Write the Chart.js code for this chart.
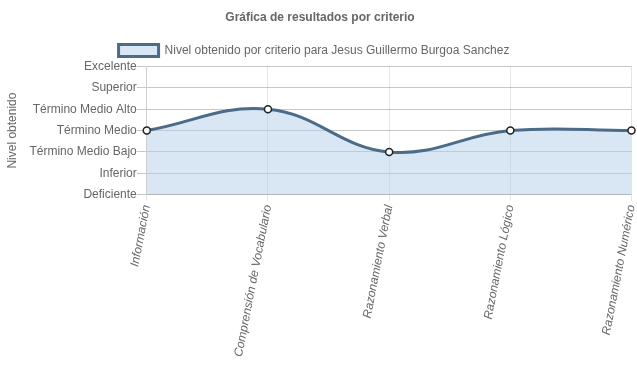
<!DOCTYPE html>
<html>
<head>
<meta charset="utf-8">
<script src="https://cdn.jsdelivr.net/npm/chart.js@4/dist/chart.umd.min.js"></script>
<style>
	html, body { margin: 0; padding: 0; background: #fff; }
	#wrap { width: 637px; height: 389px; }
</style>
</head>
<body>
<div id="wrap"><canvas id="myChart1"></canvas></div>
<script>
var criterios = ['Información', 'Comprensión de Vocabulario', 'Razonamiento Verbal', 'Razonamiento Lógico', 'Razonamiento Numérico'];
var niveles = ['Deficiente', 'Inferior', 'Término Medio Bajo', 'Término Medio', 'Término Medio Alto', 'Superior', 'Excelente'];
var resultados = [3, 4, 2, 3, 3];

Chart.defaults.font.family = "'Liberation Sans', Arial, sans-serif";
Chart.defaults.font.size = 12;
Chart.defaults.color = '#666';

// old-style legend sits a few px left of centre
var legendShift = {
	id: 'legendShift',
	afterLayout: function(chart){
		chart.legend.left -= 6;
		chart.legend.right -= 6;
	}
};

var ctx = document.getElementById('myChart1');
var myLineChart = new Chart(ctx, {
	type: 'line',
	data: {
		labels: criterios,
		datasets: [{
			label: 'Nivel obtenido por criterio para Jesus Guillermo Burgoa Sanchez',
			data: resultados,
			borderColor: '#4b6b88',
			backgroundColor: 'rgba(180,206,232,0.5)',
			borderWidth: 3,
			fill: true,
			tension: 0.4,
			pointRadius: 3.5,
			pointBorderWidth: 1.5,
			pointBackgroundColor: '#fff',
			pointBorderColor: '#222'
		}]
	},
	plugins: [legendShift],
	options: {
		responsive: true,
		maintainAspectRatio: false,
		animation: false,
		layout: { padding: { right: 0, left: 3, bottom: 28 } },
		plugins: {
			title: {
				display: true,
				text: 'Gráfica de resultados por criterio',
				font: { size: 12, weight: 'bold' },
				padding: { top: 10, bottom: 12 }
			},
			legend: {
				labels: { boxWidth: 40, boxHeight: 12, padding: 8 }
			},
			tooltip: { enabled: false }
		},
		scales: {
			x: {
				grid: { color: 'rgba(0,0,0,0.1)', tickLength: 6 },
				ticks: {
					minRotation: 79,
					maxRotation: 79,
					font: { style: 'italic' }
				},
				afterFit: function(scale){
					scale.paddingRight = 4;
					scale.paddingLeft = 0;
				}
			},
			y: {
				min: 0,
				max: 6,
				grid: { color: 'rgba(0,0,0,0.22)', tickLength: 10 },
				title: { display: true, text: 'Nivel obtenido', padding: { top: 2, bottom: 10 } },
				ticks: {
					stepSize: 1,
					padding: 0,
					callback: function(value){
						return niveles[value];
					}
				}
			}
		}
	}
});
</script>
</body>
</html>
